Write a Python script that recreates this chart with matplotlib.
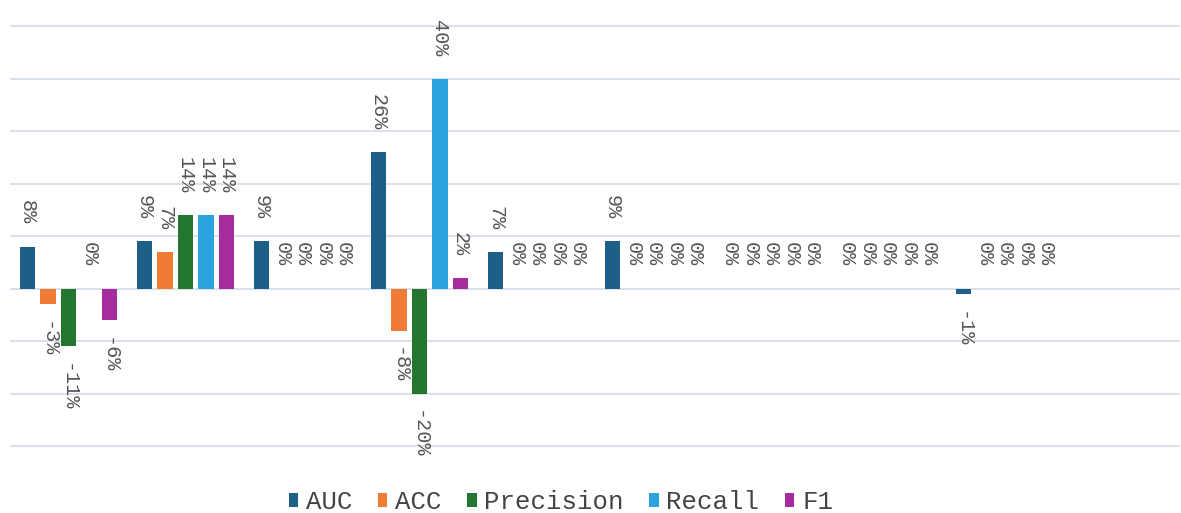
import numpy as np
import matplotlib.pyplot as plt
from matplotlib.patches import Patch

# --- dane (w %) ---
groups = ["G1", "G2", "G3", "G4", "G5", "G6", "G7", "G8", "G9", "G10"]
auc = [8, 9, 9, 26, 7, 9, 0, 0, -1, np.nan]
acc = [-3, 7, 0, -8, 0, 0, 0, 0, 0, np.nan]
precision = [-11, 14, 0, -20, 0, 0, 0, 0, 0, np.nan]
recall = [0, 14, 0, 40, 0, 0, 0, 0, 0, np.nan]
f1 = [-6, 14, 0, 2, 0, 0, 0, 0, 0, np.nan]

series = [("AUC", auc, "#1d5f88"),
          ("ACC", acc, "#ef7b35"),
          ("Precision", precision, "#24762f"),
          ("Recall", recall, "#2ba3de"),
          ("F1", f1, "#a42c9e")]

mono = "Liberation Mono"

fig = plt.figure(figsize=(11.81, 5.13), dpi=100)
ax = fig.add_axes([10 / 1181, 0.079, 1170 / 1181, 0.921])

x = np.arange(len(groups))
step = 0.175
width = 0.135

for i, (name, vals, col) in enumerate(series):
    pos = x + (i - 2) * step
    vals = np.array(vals, dtype=float)
    ax.bar(pos, vals, width, color=col, linewidth=0, zorder=2)
    for xp, v in zip(pos, vals):
        if np.isnan(v):
            continue
        if v >= 0:
            ax.annotate(f"{v:.0f}%", (xp, v), xytext=(0, 16), textcoords="offset points",
                        rotation=-90, ha="center", va="bottom", fontsize=14.5,
                        family=mono, color="#555555")
        else:
            ax.annotate(f"{v:.0f}%", (xp, v), xytext=(0, -12), textcoords="offset points",
                        rotation=-90, ha="center", va="top", fontsize=14.5,
                        family=mono, color="#555555")

ax.set_xlim(-0.5, 9.5)
ax.set_ylim(-35, 55)
ax.set_yticks(np.arange(-30, 51, 10))
ax.grid(axis="y", color="#d3dce8", linewidth=1.2, zorder=0)
ax.set_xticks([])
ax.tick_params(left=False, labelleft=False)
for s in ax.spines.values():
    s.set_visible(False)

handles = [Patch(facecolor=c, label=n) for n, _, c in series]
fig.legend(handles=handles, loc="center", bbox_to_anchor=(561 / 1181, 0.021), ncol=5,
           frameon=False, prop={"family": mono, "size": 18.5}, handlelength=0.36,
           handleheight=0.48, handletextpad=0.3, columnspacing=1.0, labelcolor="#444444")

fig.savefig("out.png", dpi=100)
